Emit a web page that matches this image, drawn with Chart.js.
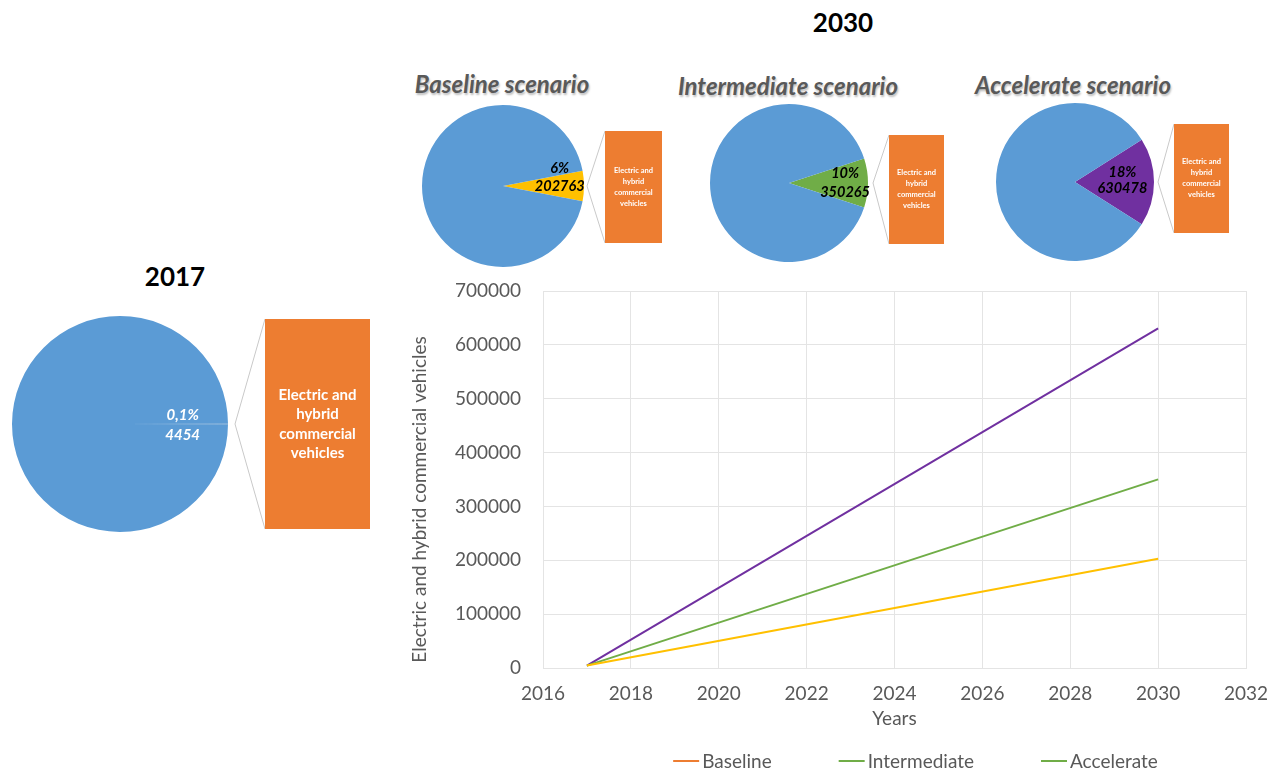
<!DOCTYPE html>
<html><head><meta charset="utf-8">
<script src="https://cdn.jsdelivr.net/npm/chart.js@4.4.0/dist/chart.umd.min.js"></script>
<style>
html,body{margin:0;padding:0;background:#fff;width:1280px;height:772px;overflow:hidden;position:relative;font-family:Lato, sans-serif;}
canvas{position:absolute;}
.t{position:absolute;white-space:nowrap;transform:translate(-50%,-50%);}
.main{font-weight:bold;font-size:26px;color:#000;}
.sc{font-weight:bold;font-style:italic;font-size:24px;color:#595959;text-shadow:1px 2px 2px rgba(0,0,0,0.25);}
</style></head><body>
<script>
// ---------- DATA ----------
const pieTitles = ['2017', 'Baseline scenario', 'Intermediate scenario', 'Accelerate scenario'];
const groupTitle = '2030';
const sliceCategories = ['Electric and hybrid commercial vehicles', 'Other commercial vehicles'];
const boxLabelLines = ['Electric and', 'hybrid', 'commercial', 'vehicles'];
const evSharePct = [0.1, 6, 10, 18];
const evShareLabels = ['0,1%', '6%', '10%', '18%'];
const evCounts = [4454, 202763, 350265, 630478];

const years = [2017, 2030];
const baselineSeries = [4454, 202763];
const intermediateSeries = [4454, 350265];
const accelerateSeries = [4454, 630478];
const seriesNames = ['Baseline', 'Intermediate', 'Accelerate'];
const xTickValues = [2016, 2018, 2020, 2022, 2024, 2026, 2028, 2030, 2032];
const yTickValues = [0, 100000, 200000, 300000, 400000, 500000, 600000, 700000];
const xAxisTitle = 'Years';
const yAxisTitle = 'Electric and hybrid commercial vehicles';

// ---------- STYLE / LAYOUT ----------
const FONT = 'Lato, "Open Sans", sans-serif';
const restColor = '#5B9BD5';
const boxColor = '#ED7D31';
const sliceColors = ['#A5A5A5', '#FFC000', '#70AD47', '#7030A0'];
const lineColors = ['#FFC000', '#70AD47', '#7030A0'];
const legendColors = ['#ED7D31', '#70AD47', '#70AD47'];
const pieLayout = [
  {cx:120, cy:424, r:108, box:[265,319,105,210], boxFont:15, boxLine:19.5, lblR:0.58, lblDy:1, lblFont:15, lblColor:'#fff', lblGap:20, apexGap:7, tx:175, ty:276, cls:'main'},
  {cx:503, cy:186, r:81, box:[605,131,57,112], boxFont:7.5, boxLine:11, lblR:0.7, lblDy:-9, lblFont:14.5, lblColor:'#000', lblGap:18, apexGap:3, tx:502, ty:83, cls:'sc'},
  {cx:789, cy:183, r:79, box:[889,135,55,109], boxFont:7.5, boxLine:11, lblR:0.71, lblDy:0, lblFont:14.5, lblColor:'#000', lblGap:19, apexGap:5, tx:788, ty:85, cls:'sc'},
  {cx:1075, cy:182, r:79, box:[1174,124,55,109], boxFont:7.5, boxLine:11, lblR:0.6, lblDy:-2, lblFont:14.5, lblColor:'#000', lblGap:16, apexGap:4, tx:1073, ty:84, cls:'sc'}
];

function addText(txt, x, y, cls) {
  const d = document.createElement('div');
  d.className = 't ' + cls;
  d.style.left = x + 'px'; d.style.top = y + 'px';
  d.textContent = txt;
  document.body.appendChild(d);
}
function addCanvas(l, t, w, h) {
  const c = document.createElement('canvas');
  c.width = w; c.height = h;
  c.style.left = l + 'px'; c.style.top = t + 'px';
  c.style.width = w + 'px'; c.style.height = h + 'px';
  document.body.appendChild(c);
  return c;
}

addText(groupTitle, 843, 22, 'main');

pieTitles.forEach((title, i) => {
  const L = pieLayout[i];
  addText(title, L.tx, L.ty, L.cls);
  const [bx, by, bw, bh] = L.box;
  const left = L.cx - L.r - 4;
  const top = Math.min(L.cy - L.r, by) - 4;
  const right = bx + bw + 4;
  const bottom = Math.max(L.cy + L.r, by + bh) + 4;
  const cv = addCanvas(left, top, right - left, bottom - top);
  const pct = evSharePct[i];
  new Chart(cv, {
    type: 'pie',
    data: {
      labels: sliceCategories,
      datasets: [{
        data: [pct, 100 - pct],
        backgroundColor: [sliceColors[i], restColor],
        borderWidth: 0
      }]
    },
    options: {
      responsive: false, animation: false,
      rotation: 90 - pct * 3.6 / 2,
      layout: {padding: {left: L.cx - L.r - left, top: L.cy - L.r - top, right: right - (L.cx + L.r), bottom: bottom - (L.cy + L.r)}},
      plugins: {legend: {display: false}, tooltip: {enabled: false}}
    },
    plugins: [{
      id: 'pieDecor',
      afterDraw(chart) {
        const ctx = chart.ctx;
        const arc = chart.getDatasetMeta(0).data[0];
        const mid = (arc.startAngle + arc.endAngle) / 2;
        const ax = arc.x + Math.cos(mid) * (arc.outerRadius + L.apexGap);
        const ay = arc.y + Math.sin(mid) * (arc.outerRadius + L.apexGap);
        ctx.save();
        ctx.strokeStyle = '#C9C9C9'; ctx.lineWidth = 1;
        ctx.beginPath();
        ctx.moveTo(bx - left, by - top); ctx.lineTo(ax, ay); ctx.lineTo(bx - left, by + bh - top);
        ctx.stroke();
        const lx = arc.x + Math.cos(mid) * arc.outerRadius * L.lblR;
        const ly = arc.y + Math.sin(mid) * arc.outerRadius * L.lblR + L.lblDy;
        ctx.fillStyle = L.lblColor;
        ctx.font = 'italic bold ' + L.lblFont + 'px ' + FONT;
        ctx.textAlign = 'center'; ctx.textBaseline = 'middle';
        ctx.fillText(evShareLabels[i], lx, ly - L.lblGap / 2);
        ctx.fillText(String(evCounts[i]), lx, ly + L.lblGap / 2);
        ctx.restore();
      }
    }]
  });
  const bc = addCanvas(bx, by, bw, bh);
  new Chart(bc, {
    type: 'bar',
    data: {labels: [sliceCategories[0]], datasets: [{data: [evCounts[i]], backgroundColor: boxColor, borderWidth: 0, categoryPercentage: 1, barPercentage: 1}]},
    options: {
      responsive: false, animation: false,
      layout: {padding: 0},
      scales: {x: {display: false}, y: {display: false, min: 0, max: evCounts[i]}},
      plugins: {legend: {display: false}, tooltip: {enabled: false}}
    },
    plugins: [{
      id: 'boxText',
      afterDraw(chart) {
        const ctx = chart.ctx;
        const bar = chart.getDatasetMeta(0).data[0];
        const cy = (bar.y + bar.base) / 2;
        ctx.save();
        ctx.fillStyle = '#fff';
        ctx.font = 'bold ' + L.boxFont + 'px ' + FONT;
        ctx.textAlign = 'center'; ctx.textBaseline = 'middle';
        const n = boxLabelLines.length;
        boxLabelLines.forEach((s, k) => {
          ctx.fillText(s, bar.x, cy + (k - (n - 1) / 2) * L.boxLine);
        });
        ctx.restore();
      }
    }]
  });
});

// ---------- LINE CHART ----------
const lc = addCanvas(400, 276, 880, 496);
const seriesData = [baselineSeries, intermediateSeries, accelerateSeries];
const gridColor = '#E4E4E4';
new Chart(lc, {
  type: 'line',
  data: {
    datasets: seriesNames.map((name, k) => ({
      label: name,
      data: years.map((yr, j) => ({x: yr, y: seriesData[k][j]})),
      borderColor: lineColors[k],
      backgroundColor: lineColors[k],
      borderWidth: 2,
      pointRadius: 0,
      fill: false,
      tension: 0
    }))
  },
  options: {
    responsive: false, animation: false,
    layout: {padding: {left: 0, top: 15, right: 34, bottom: 40}},
    scales: {
      x: {
        type: 'linear', min: xTickValues[0], max: xTickValues[xTickValues.length - 1],
        afterBuildTicks: s => { s.ticks = xTickValues.map(v => ({value: v})); },
        afterFit: s => { s.height = 64; s.paddingLeft = 0; s.paddingRight = 0; },
        grid: {color: gridColor, drawTicks: false},
        border: {color: gridColor},
        ticks: {color: '#595959', font: {family: FONT, size: 19}, padding: 14, callback: v => String(v), maxRotation: 0},
        title: {display: true, text: xAxisTitle, color: '#595959', font: {family: FONT, size: 19}, padding: {top: 0, bottom: 2}}
      },
      y: {
        min: yTickValues[0], max: yTickValues[yTickValues.length - 1],
        afterBuildTicks: s => { s.ticks = yTickValues.map(v => ({value: v})); },
        afterFit: s => { s.width = 143; s.paddingTop = 0; s.paddingBottom = 0; },
        grid: {color: gridColor, drawTicks: false},
        border: {color: gridColor},
        ticks: {color: '#595959', font: {family: FONT, size: 19}, padding: 22, callback: v => String(v)},
        title: {display: false}
      }
    },
    plugins: {legend: {display: false}, tooltip: {enabled: false}}
  },
  plugins: [{
    id: 'yTitleAndLegend',
    afterDraw(chart) {
      const ctx = chart.ctx;
      const ca = chart.chartArea;
      ctx.save();
      // y axis title (offset slightly below the plot centre, as in the source)
      ctx.translate(20, (ca.top + ca.bottom) / 2 + 20);
      ctx.rotate(-Math.PI / 2);
      ctx.font = '19px ' + FONT;
      ctx.fillStyle = '#595959';
      ctx.textAlign = 'center'; ctx.textBaseline = 'middle';
      ctx.fillText(yAxisTitle, 0, 0);
      ctx.restore();

      ctx.save();
      ctx.font = '19px ' + FONT;
      const sw = 26, gap = 3, itemGap = 67;
      const widths = chart.data.datasets.map(d => sw + gap + ctx.measureText(d.label).width);
      const total = widths.reduce((a, b) => a + b, 0) + itemGap * (widths.length - 1);
      let x = (ca.left + ca.right) / 2 + 21 - total / 2;
      const y = chart.height - 11;
      chart.data.datasets.forEach((d, k) => {
        ctx.strokeStyle = legendColors[k]; ctx.lineWidth = 2;
        ctx.beginPath(); ctx.moveTo(x, y); ctx.lineTo(x + sw, y); ctx.stroke();
        ctx.fillStyle = '#595959'; ctx.textAlign = 'left'; ctx.textBaseline = 'middle';
        ctx.fillText(d.label, x + sw + gap, y + 1);
        x += widths[k] + itemGap;
      });
      ctx.restore();
    }
  }]
});
</script>
</body></html>
